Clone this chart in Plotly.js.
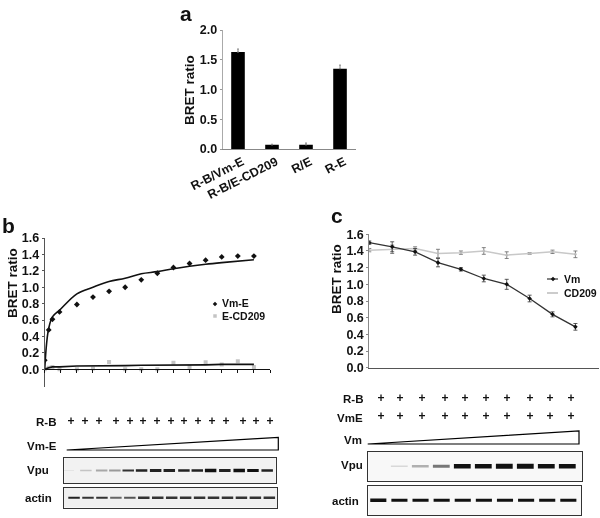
<!DOCTYPE html>
<html><head><meta charset="utf-8">
<script src="https://cdn.plot.ly/plotly-3.0.1.min.js"></script>
<style>html,body{margin:0;padding:0;background:#fff}#plot{width:600px;height:518px;filter:blur(0.25px)}</style>
</head><body><div id="plot"></div>
<script>
// Panel a
const aCats = ['R-B/Vm-E','R-B/E-CD209','R/E','R-E'];
const aVals = [1.63,0.07,0.07,1.35];
const aErr  = [0.05,0.01,0.03,0.06];
// Panel b
const bX    = [0,0.25,0.48,0.92,2,3,4,5,6,7,8,9,10,11,12,13];
const bVm   = [0.11,0.48,0.61,0.70,0.79,0.88,0.95,1.00,1.09,1.17,1.24,1.29,1.33,1.37,1.38,1.38];
const bCd   = [0.00,0.02,0.03,0.00,0.00,0.01,0.09,0.00,0.00,0.00,0.08,0.03,0.085,0.06,0.10,0.03];
const bFitX = [0,0.12,0.25,0.48,0.92,2,3,4,5,6,7,8,9,10,11,13];
const bFitVm= [0,0.32,0.50,0.64,0.72,0.92,1.00,1.07,1.11,1.165,1.19,1.225,1.255,1.28,1.30,1.335];
const bFitCd= [0,0.01,0.02,0.03,0.03,0.04,0.04,0.04,0.045,0.05,0.05,0.05,0.055,0.055,0.06,0.06];
// Panel c
const cX    = [0,1,2,3,4,5,6,7,8,9];
const cVm   = [1.50,1.45,1.39,1.26,1.18,1.07,1.00,0.83,0.64,0.49];
const cVmE  = [0.02,0.06,0.04,0.05,0.02,0.04,0.06,0.04,0.03,0.04];
const cCd   = [1.41,1.42,1.43,1.37,1.38,1.40,1.35,1.37,1.39,1.36];
const cCdE  = [0.02,0.05,0.02,0.05,0.02,0.04,0.04,0.01,0.02,0.04];
// Blot bands
const bVpuLane  = [0,1.24,2.35,3.28,4.22,5.16,6.15,7.11,8.14,9.08,10.02,11.02,12.03,13,14];
const bVpuThick = [1,1.5,2,2,2,2.5,3,3,2.5,2.5,3.5,3,3.5,3,2.5];
const bVpuGray  = ['#e4e4e4','#c4c4c4','#a8a8a8','#9a9a9a','#333','#222','#222','#222','#222','#222','#111','#222','#111','#111','#222'];
const bActLane  = [0,1,2,3,4,5,6,7,8,9,10,11,12,13,14];
const bActThick = [2,2,2,2,2,2.5,2.5,2.5,2.5,2.5,2.5,2.5,2.5,2.5,2.5];
const bActGray  = ['#222','#333','#333','#666','#555','#333','#333','#333','#333','#333','#333','#333','#333','#333','#333'];
const cVpuLane  = [1,2,3,4,5,6,7,8,9];
const cVpuThick = [1.5,2.5,3,4.5,4.5,5,5,4.5,4.5];
const cVpuGray  = ['#d8d8d8','#b0b0b0','#777','#111','#111','#111','#111','#111','#111'];
const cActLane  = [0,1,2,3,4,5,6,7,8,9];
const cActThick = [3.5,3,3,3,3,3,3,3,3,3];
const cActGray  = ['#111','#111','#111','#111','#111','#111','#111','#111','#111','#111'];
// Lane marks
const bPlusX = [71,85,99,116,130,143,157,171,184,198,212,226,243,256,270];
const cPlusX = [381,400,422,445,465,486,507,530,550,571];

const W=600,H=518,font='"Liberation Sans",Arial,sans-serif';
const dx=(a,b)=>[a/W,b/W], dy=(a,b)=>[1-b/H,1-a/H];
const tf=(s)=>({family:font,size:s,color:'#111'});
const base={showgrid:false,zeroline:false,fixedrange:true};
function gelAxis(dom,rng){return Object.assign({},base,{domain:dom,range:rng,showline:true,mirror:true,linecolor:'#333',linewidth:1,ticks:'',showticklabels:false});}
function band(xa,ya,lane,th,gr,size){
  const core={x:lane,y:lane.map(()=>0),xaxis:xa,yaxis:ya,type:'scatter',mode:'markers',showlegend:false,hoverinfo:'skip',
    marker:{symbol:'line-ew',size:size,color:gr,line:{width:th,color:gr}}};
  return [core];
}
const traces=[
 {x:aCats,y:aVals,type:'bar',xaxis:'x',yaxis:'y',width:0.4,marker:{color:'#000'},showlegend:false,
  error_y:{type:'data',array:aErr,symmetric:false,arrayminus:aErr.map(()=>0),color:'#888',thickness:1,width:1}},
 {x:bX,y:bVm,name:'Vm-E',xaxis:'x2',yaxis:'y2',mode:'markers',marker:{symbol:'diamond',size:4.5,color:'#111'},showlegend:false},
 {x:bX,y:bCd,name:'E-CD209',xaxis:'x2',yaxis:'y2',mode:'markers',marker:{symbol:'square',size:4,color:'#c4c4c4'},showlegend:false},
 {x:bFitX,y:bFitVm,xaxis:'x2',yaxis:'y2',mode:'lines',line:{color:'#111',width:1.6,shape:'spline'},showlegend:false},
 {x:bFitX,y:bFitCd,xaxis:'x2',yaxis:'y2',mode:'lines',line:{color:'#111',width:1.6},showlegend:false},
 {x:cX,y:cCd,name:'CD209',xaxis:'x3',yaxis:'y3',mode:'lines+markers',line:{color:'#c8c8c8',width:1.5},marker:{size:2.5,color:'#bbb'},showlegend:false,
  error_y:{type:'data',array:cCdE,color:'#666',thickness:0.8,width:2}},
 {x:cX,y:cVm,name:'Vm',xaxis:'x3',yaxis:'y3',mode:'lines+markers',line:{color:'#333',width:1.3},marker:{symbol:'diamond',size:3.5,color:'#111'},showlegend:false,
  error_y:{type:'data',array:cVmE,color:'#333',thickness:0.8,width:2}},
 ...band('x4','y4',bVpuLane,bVpuThick,bVpuGray,8.2),
 ...band('x5','y5',bActLane,bActThick,bActGray,8.2),
 ...band('x6','y6',cVpuLane,cVpuThick,cVpuGray,12),
 ...band('x7','y7',cActLane,cActThick,cActGray,11.5),
 {x:bPlusX,y:bPlusX.map(()=>421.5),xaxis:'x8',yaxis:'y8',mode:'text',text:bPlusX.map(()=>'+'),textfont:{family:font,size:12,color:'#111',weight:'bold'},showlegend:false,hoverinfo:'skip'},
 {x:cPlusX,y:cPlusX.map(()=>399),xaxis:'x8',yaxis:'y8',mode:'text',text:cPlusX.map(()=>'+'),textfont:{family:font,size:12,color:'#111',weight:'bold'},showlegend:false,hoverinfo:'skip'},
 {x:cPlusX,y:cPlusX.map(()=>417),xaxis:'x8',yaxis:'y8',mode:'text',text:cPlusX.map(()=>'+'),textfont:{family:font,size:12,color:'#111',weight:'bold'},showlegend:false,hoverinfo:'skip'},
 {x:[215],y:[304],xaxis:'x8',yaxis:'y8',mode:'markers',marker:{symbol:'diamond',size:3.5,color:'#111'},showlegend:false,hoverinfo:'skip'},
 {x:[215],y:[316],xaxis:'x8',yaxis:'y8',mode:'markers',marker:{symbol:'square',size:3.5,color:'#c4c4c4'},showlegend:false,hoverinfo:'skip'},
 {x:[547,558],y:[279,279],xaxis:'x8',yaxis:'y8',mode:'lines',line:{color:'#333',width:1.2},showlegend:false,hoverinfo:'skip'},
 {x:[553],y:[279],xaxis:'x8',yaxis:'y8',mode:'markers',marker:{symbol:'diamond',size:3.5,color:'#111'},showlegend:false,hoverinfo:'skip'},
 {x:[547,558],y:[293,293],xaxis:'x8',yaxis:'y8',mode:'lines',line:{color:'#aaa',width:1.2},showlegend:false,hoverinfo:'skip'}
];
function note(t,x,y,size,extra){return Object.assign({text:'<b>'+t+'</b>',xref:'x8',yref:'y8',x:x,y:y,showarrow:false,font:tf(size),xanchor:'center',yanchor:'middle'},extra||{});}
const annotations=[
 note('a',186,13,21), note('b',8,225,21), note('c',337,215,21),
 note('BRET ratio',189,90,13.5,{textangle:-90}),
 note('BRET ratio',12,283,13.5,{textangle:-90}),
 note('BRET ratio',336,279,13.5,{textangle:-90}),
 note('Vm-E',220,303,10.5,{xanchor:'left'}),
 note('E-CD209',220,316,10.5,{xanchor:'left'}),
 note('Vm',562,279,10.5,{xanchor:'left'}),
 note('CD209',562,293,10.5,{xanchor:'left'}),
 note('R-B',58,421.5,11.5,{xanchor:'right'}),
 note('Vm-E',59,446,11.5,{xanchor:'right'}),
 note('Vpu',51,469.5,11.5,{xanchor:'right'}),
 note('actin',54,498,11.5,{xanchor:'right'}),
 note('R-B',365,399,11.5,{xanchor:'right'}),
 note('VmE',365,418,11.5,{xanchor:'right'}),
 note('Vm',364,440,11.5,{xanchor:'right'}),
 note('Vpu',365,465,11.5,{xanchor:'right'}),
 note('actin',361,501,11.5,{xanchor:'right'})
];
function px(x,y){return (x/W)+','+(1-y/H);}
const shapes=[
 {type:'path',xref:'paper',yref:'paper',path:'M'+px(66.7,450)+'L'+px(278.3,437.3)+'L'+px(278.3,450)+'Z',fillcolor:'#fff',line:{color:'#000',width:1.2}},
 {type:'path',xref:'paper',yref:'paper',path:'M'+px(367.7,444)+'L'+px(579,431)+'L'+px(579,444)+'Z',fillcolor:'#fff',line:{color:'#000',width:1.2}},
 {type:'rect',xref:'x4 domain',yref:'y4 domain',x0:0,x1:1,y0:0,y1:1,fillcolor:'#f2f2f2',line:{width:0},layer:'below'},
 {type:'rect',xref:'x5 domain',yref:'y5 domain',x0:0,x1:1,y0:0,y1:1,fillcolor:'#f0f0f0',line:{width:0},layer:'below'},
 {type:'rect',xref:'x6 domain',yref:'y6 domain',x0:0,x1:1,y0:0,y1:1,fillcolor:'#f8f8f8',line:{width:0},layer:'below'},
 {type:'rect',xref:'x7 domain',yref:'y7 domain',x0:0,x1:1,y0:0,y1:1,fillcolor:'#f8f8f8',line:{width:0},layer:'below'}
];
const boldTick={family:font,size:12.5,color:'#111',weight:'bold'};
const layout={width:W,height:H,margin:{l:0,r:0,t:0,b:0},paper_bgcolor:'#fff',plot_bgcolor:'rgba(0,0,0,0)',showlegend:false,annotations,shapes,
 xaxis:Object.assign({},base,{domain:dx(222.7,356),range:[-0.45,3.47],type:'category',showline:true,linecolor:'#888',linewidth:1,ticks:'',tickangle:-27,ticklabelshift:4,tickfont:boldTick,anchor:'y'}),
 yaxis:Object.assign({},base,{domain:dy(30,149),range:[0,2],dtick:0.5,tickformat:'.1f',showline:true,linecolor:'#aaa',linewidth:1,ticks:'outside',ticklen:2,tickcolor:'#999',tickfont:boldTick,anchor:'x'}),
 xaxis2:Object.assign({},base,{domain:dx(44.7,270),range:[0,14],dtick:1,tick0:0,showline:true,linecolor:'#111',linewidth:1,ticks:'outside',ticklen:3,tickcolor:'#111',showticklabels:false,anchor:'free',position:(H-369.3)/H}),
 yaxis2:Object.assign({},base,{domain:dy(238,387),range:[-0.215,1.6],tickvals:[0,0.2,0.4,0.6,0.8,1,1.2,1.4,1.6],tickformat:'.1f',showline:true,linecolor:'#555',linewidth:1,ticks:'outside',ticklen:2,tickcolor:'#555',tickfont:boldTick,anchor:'x2'}),
 xaxis3:Object.assign({},base,{domain:dx(369.3,599),range:[0,10.03],dtick:1,showline:true,linecolor:'#555',linewidth:1,ticks:'',showticklabels:false,anchor:'y3'}),
 yaxis3:Object.assign({},base,{domain:dy(234.3,367.7),range:[0,1.6],dtick:0.2,tickformat:'.1f',showline:true,linecolor:'#888',linewidth:1,ticks:'outside',ticklen:2,tickcolor:'#888',tickfont:boldTick,anchor:'x3'}),
 xaxis4:Object.assign(gelAxis(dx(64.3,275.7),[-0.28,14.6]),{anchor:'y4'}),
 yaxis4:Object.assign(gelAxis(dy(457.7,483.3),[-1,1]),{anchor:'x4'}),
 xaxis5:Object.assign(gelAxis(dx(64,277),[-0.72,14.55]),{anchor:'y5'}),
 yaxis5:Object.assign(gelAxis(dy(488,507.5),[-1,1]),{anchor:'x5'}),
 xaxis6:Object.assign(gelAxis(dx(368.3,582),[-0.476,9.7]),{anchor:'y6'}),
 yaxis6:Object.assign(gelAxis(dy(451.7,481),[-1,1]),{anchor:'x6'}),
 xaxis7:Object.assign(gelAxis(dx(368.3,581),[-0.474,9.6]),{anchor:'y7'}),
 yaxis7:Object.assign(gelAxis(dy(485.7,515),[-1,1]),{anchor:'x7'}),
 xaxis8:Object.assign({},base,{domain:[0,1],range:[0,W],visible:false,anchor:'y8'}),
 yaxis8:Object.assign({},base,{domain:[0,1],range:[H,0],visible:false,anchor:'x8'})
};
Plotly.newPlot('plot',traces,layout,{staticPlot:true,displayModeBar:false});
</script></body></html>
